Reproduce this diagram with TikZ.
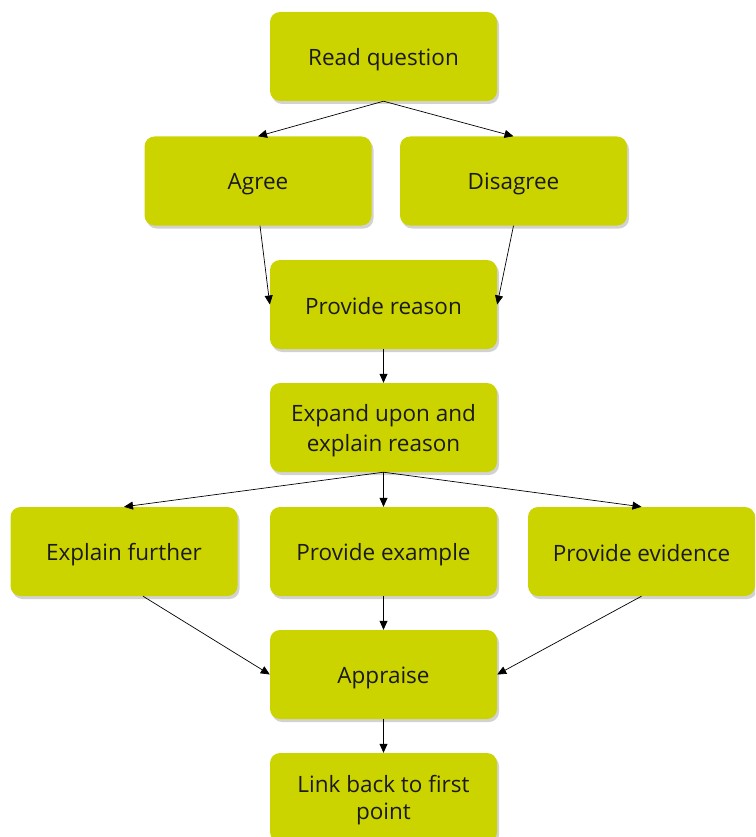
\documentclass[tikz,border=0pt]{standalone}
\usepackage{fontspec}
\setmainfont{Open Sans}
\usetikzlibrary{arrows.meta,shadows}
\definecolor{boxfill}{HTML}{CCD400}
\definecolor{txt}{HTML}{1A1A1A}
\newcommand{\mystrut}{\rule[-4pt]{0pt}{27pt}}
\tikzset{
  box/.style={rectangle, rounded corners=10pt, fill=boxfill, draw=none,
    minimum width=227pt, minimum height=89pt, inner sep=0pt, align=center,
    text=txt, font=\fontsize{22.5}{27}\selectfont,
    drop shadow={shadow xshift=2pt, shadow yshift=-3pt, opacity=0.25, fill=black!70}},
  conn/.style={draw=black, line width=0.7pt, -{Triangle[length=9pt,width=8pt]}}
}
\begin{document}
\begin{tikzpicture}[x=1pt,y=-1pt]
\useasboundingbox (0,0) rectangle (755,837);
\clip (0,0) rectangle (755,837);
\node[box] (read) at (383.5,56.5) {\mystrut Read question};
\node[box] (agree) at (258,181) {\mystrut Agree};
\node[box] (dis) at (513.5,181) {\mystrut Disagree};
\node[box] (reason) at (383.5,304.5) {\mystrut Provide reason};
\node[box] (expand) at (383.5,427.5) {\mystrut Expand upon and\\\mystrut explain reason};
\node[box] (further) at (124,551.5) {\mystrut Explain further};
\node[box] (example) at (383.5,551.5) {\mystrut Provide example};
\node[box] (evidence) at (641.5,551.5) {\mystrut Provide evidence};
\node[box] (appraise) at (383.5,674.5) {\mystrut Appraise};
\node[box] (link) at (383.5,797.5) {\mystrut Link back to first\\\mystrut point};

\draw[conn] (read.south) -- (agree.north);
\draw[conn] (read.south) -- (dis.north);
\draw[conn] ([xshift=2pt]agree.south) -- (reason.west);
\draw[conn] (dis.south) -- (reason.east);
\draw[conn] (reason.south) -- (expand.north);
\draw[conn] (expand.south) -- (further.north);
\draw[conn] (expand.south) -- (example.north);
\draw[conn] (expand.south) -- (evidence.north);
\draw[conn] ([xshift=19pt]further.south) -- (appraise.west);
\draw[conn] (example.south) -- (appraise.north);
\draw[conn] (evidence.south) -- (appraise.east);
\draw[conn] (appraise.south) -- (link.north);
\end{tikzpicture}
\end{document}
